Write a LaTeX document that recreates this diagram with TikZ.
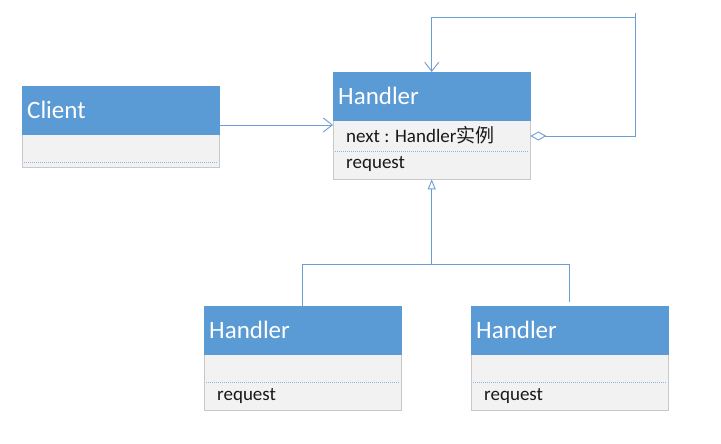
\documentclass[tikz,border=0pt]{standalone}
\usepackage{fontspec}
\setmainfont{Carlito}
\newfontfamily\cjk{Noto Sans CJK SC}
\usetikzlibrary{arrows.meta}
\definecolor{hblue}{HTML}{5B9BD5}
\definecolor{bodyfill}{HTML}{F2F2F2}
\definecolor{bordergray}{HTML}{C8C8C8}
\definecolor{lineblue}{HTML}{6A9FD6}
\definecolor{dotblue}{HTML}{8AB6E0}
\begin{document}
\begin{tikzpicture}[x=1bp,y=-1bp,
  classhead/.style={draw=hblue, fill=hblue, text=white, font=\fontsize{25bp}{30bp}\selectfont,
    anchor=north west, minimum height=48bp, text width=187bp, inner xsep=5bp, inner ysep=0pt, align=left},
  classbody/.style={draw=bordergray, fill=bodyfill, anchor=north west, minimum width=197bp, inner sep=0pt},
  member/.style={font=\fontsize{19bp}{23bp}\selectfont, text=black!90, anchor=base west, inner sep=0pt},
  sepline/.style={dotblue, line width=0.7bp, dash pattern=on 1bp off 1bp},
  conn/.style={lineblue, line width=0.9bp},
  assoc/.style={conn, -{Straight Barb[length=9bp,width=14bp]}},
  inherit/.style={conn, -{Triangle[open,length=10bp,width=8bp,fill=white]}},
  aggr/.style={conn, {Diamond[open,length=16bp,width=9bp,fill=white]}-}
]
\useasboundingbox (0,0) rectangle (721,444);

% Client
\node[classbody, minimum height=33bp] (clientbody) at (22,134) {};
\node[classhead] (clienthead) at (22,86) {Client};
\draw[sepline] ([xshift=2bp]clientbody.west |- 0,162) -- ([xshift=-2bp]clientbody.east |- 0,162);

% Top Handler
\node[classbody, minimum height=59bp] (hbody) at (333,120) {};
\node[classhead] (hhead) at (333,72) {Handler};
\draw[sepline] ([xshift=2bp]hbody.west |- 0,151) -- ([xshift=-2bp]hbody.east |- 0,151);
\node[member] (hnext) at (346,143) {next : Handler{\cjk 实例}};
\node[member] (hreq) at (346,169) {request};

% Bottom left Handler
\node[classbody, minimum height=56bp] (blbody) at (204,354) {};
\node[classhead] (blhead) at (204,306) {Handler};
\draw[sepline] ([xshift=2bp]blbody.west |- 0,382) -- ([xshift=-2bp]blbody.east |- 0,382);
\node[member] (blreq) at (217,400) {request};

% Bottom right Handler
\node[classbody, minimum height=56bp] (brbody) at (471,354) {};
\node[classhead] (brhead) at (471,306) {Handler};
\draw[sepline] ([xshift=2bp]brbody.west |- 0,382) -- ([xshift=-2bp]brbody.east |- 0,382);
\node[member] (brreq) at (484,400) {request};

% Client -> Handler
\draw[assoc] (clienthead.east |- 0,125) -- (hbody.west |- 0,125);

% self aggregation loop
\coordinate (loopbr) at (635,136);
\coordinate (looptr) at (635,17);
\draw[aggr] (hbody.east |- loopbr) -- (loopbr) -- (635,13);
\draw[assoc] (looptr) -- (hhead.north |- looptr) -- (hhead.north);

% inheritance
\coordinate (junc) at (hbody.south |- 0,264);
\draw[inherit] (blhead.north) |- (junc) -- (hbody.south);
\draw[conn] ([yshift=4bp]brhead.north) |- (junc);
\end{tikzpicture}
\end{document}
